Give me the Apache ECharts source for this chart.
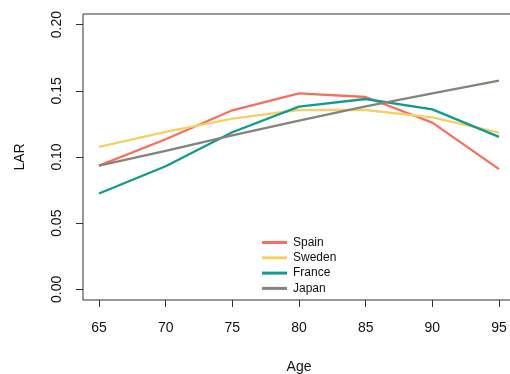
<!DOCTYPE html>
<html>
<head>
<meta charset="utf-8">
<script src="https://cdn.jsdelivr.net/npm/echarts@6/dist/echarts.min.js"></script>
<style>
  html, body { margin: 0; padding: 0; background: #fff; }
  #chart { width: 510px; height: 374px; }
</style>
</head>
<body>
<div id="chart"></div>
<script>
// Lifetime attributable risk by age at exposure
const ages = [65, 70, 75, 80, 85, 90, 95];
const spain  = [0.0935, 0.1134, 0.1353, 0.1480, 0.1453, 0.1260, 0.0908];
const sweden = [0.1076, 0.1190, 0.1290, 0.1355, 0.1355, 0.1300, 0.1184];
const france = [0.0724, 0.0930, 0.1187, 0.1380, 0.1438, 0.1360, 0.1152];
const japan  = [0.0935, 0.1047, 0.1163, 0.1275, 0.1383, 0.1480, 0.1576];
const yTicks = [0, 0.05, 0.10, 0.15, 0.20];
const xTicks = [65, 70, 75, 80, 85, 90, 95];

const seriesDefs = [
  { name: 'Spain',  data: spain,  color: '#FA6E5E' },
  { name: 'Sweden', data: sweden, color: '#F4D166' },
  { name: 'France', data: france, color: '#139A8E' },
  { name: 'Japan',  data: japan,  color: '#83847A' }
];

const font = 'Liberation Sans, Arial, Helvetica, sans-serif';
const chart = echarts.init(document.getElementById('chart'));

chart.setOption({
  animation: false,
  backgroundColor: '#ffffff',
  grid: {
    left: 83, top: 14, right: -5, bottom: 74,
    outerBoundsMode: 'none',
    containLabel: false,
    show: true, borderColor: '#333', borderWidth: 1, backgroundColor: 'transparent'
  },
  legend: {
    orient: 'vertical',
    left: 257, top: 231,
    icon: 'rect',
    itemWidth: 25, itemHeight: 3, itemGap: 2.3,
    textStyle: { fontFamily: font, fontSize: 12, color: '#111', lineHeight: 13, padding: [0, 0, 0, 1] },
    data: seriesDefs.map(s => s.name)
  },
  xAxis: {
    type: 'value',
    min: 63.8, max: 96.2,
    name: 'Age', nameLocation: 'middle', nameGap: 60,
    nameTextStyle: { fontFamily: font, fontSize: 14, color: '#111' },
    axisLine: { show: false, onZero: false },
    axisTick: { show: true, inside: false, length: 7, customValues: xTicks, lineStyle: { color: '#333' } },
    axisLabel: { customValues: xTicks, fontFamily: font, fontSize: 14, color: '#111', margin: 21 },
    splitLine: { show: false }
  },
  yAxis: {
    type: 'value',
    min: -0.008, max: 0.208,
    name: 'LAR', nameLocation: 'middle', nameGap: 56, nameRotate: 90,
    nameTextStyle: { fontFamily: font, fontSize: 14, color: '#111' },
    axisLine: { show: false, onZero: false },
    axisTick: { show: true, inside: false, length: 7, customValues: yTicks, lineStyle: { color: '#333' } },
    axisLabel: {
      customValues: yTicks, rotate: 90, fontFamily: font, fontSize: 14, color: '#111', margin: 19,
      formatter: v => v.toFixed(2)
    },
    splitLine: { show: false }
  },
  series: seriesDefs.map(s => ({
    name: s.name,
    type: 'line',
    data: ages.map((a, i) => [a, s.data[i]]),
    showSymbol: false,
    symbol: 'none',
    lineStyle: { width: 2.3, color: s.color },
    itemStyle: { color: s.color }
  }))
});
</script>
</body>
</html>
